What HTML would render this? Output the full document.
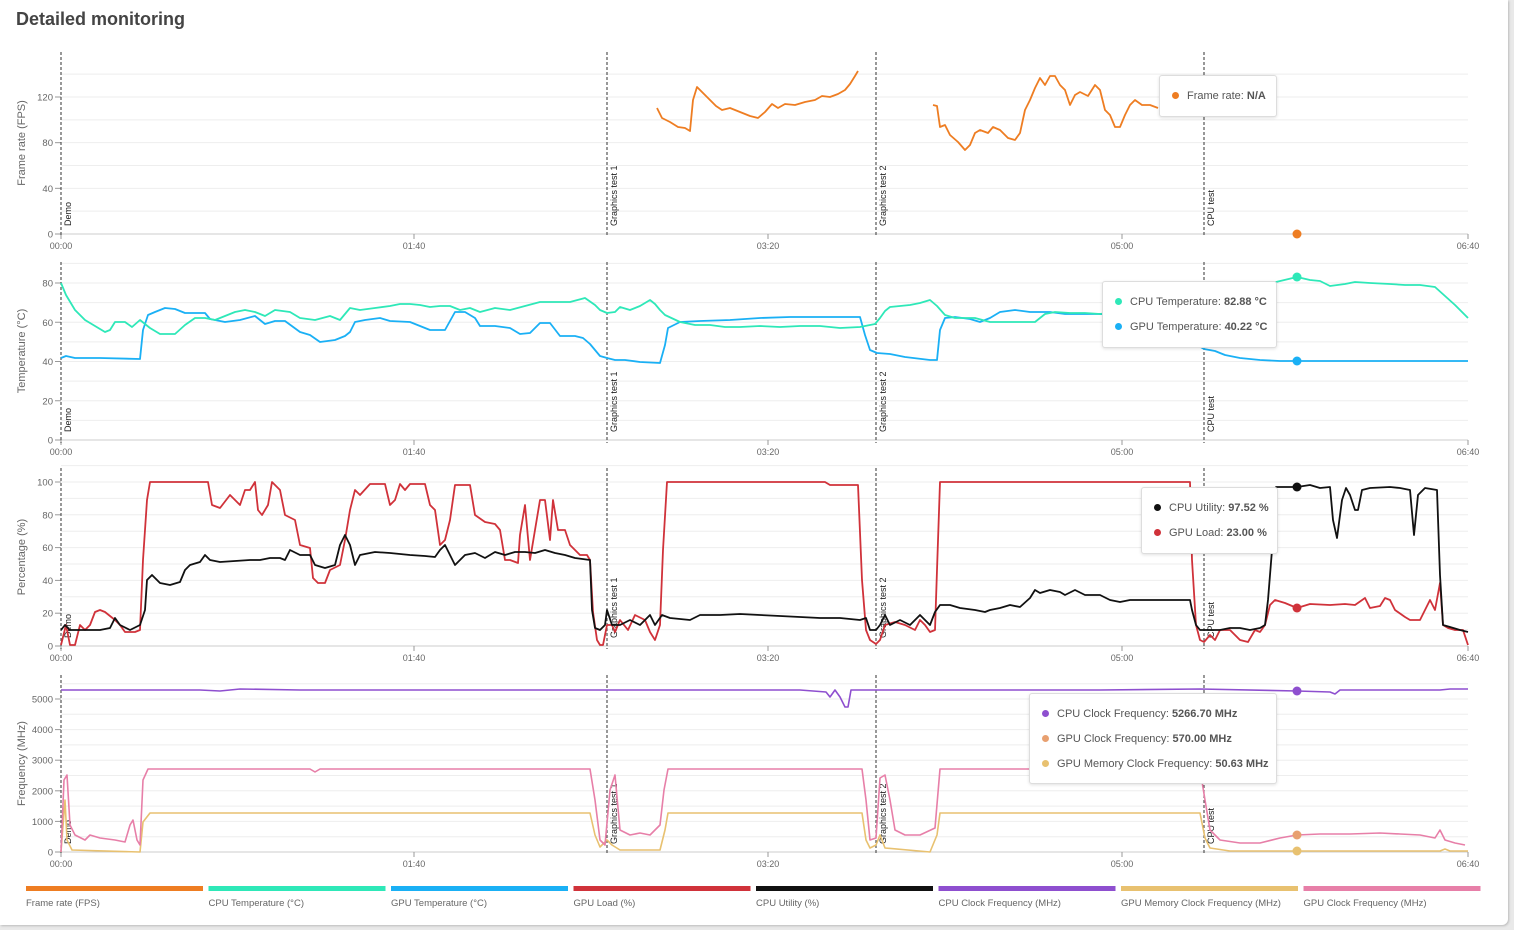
<!DOCTYPE html>
<html><head><meta charset="utf-8"><style>
body{margin:0;background:#e9e9e9;width:1514px;height:930px;overflow:hidden;font-family:"Liberation Sans",sans-serif}
#card{position:absolute;left:0;top:0;width:1508px;height:925px;background:#fff;border-radius:0 0 6px 0;box-shadow:1px 1px 2px #bbb}
h1{position:absolute;left:16px;top:9px;margin:0;font-size:18px;font-weight:bold;color:#444}
svg{position:absolute;left:0;top:0}
.tt{position:absolute;background:#fff;border:1px solid #ddd;border-radius:3px;box-shadow:0 1px 3px rgba(0,0,0,.12);font-size:11px;color:#555}
.tt div{position:absolute;left:12px;white-space:nowrap}
.tt i{display:inline-block;width:7px;height:7px;border-radius:50%;margin-right:8px;vertical-align:0}
.tt b{color:#555}
</style></head><body><div id="card"></div>
<h1>Detailed monitoring</h1>
<svg id="s" width="1514" height="930" font-family="Liberation Sans, sans-serif"></svg>
<div class="tt" style="left:1159px;top:75px;width:116px;height:40px"><div style="top:14px"><i style="background:#ee7d22"></i>Frame rate: <b>N/A</b></div></div>
<div class="tt" style="left:1102px;top:281px;width:173px;height:65px"><div style="top:14px"><i style="background:#2ee8b8"></i>CPU Temperature: <b>82.88 °C</b></div><div style="top:39px"><i style="background:#1ab0f5"></i>GPU Temperature: <b>40.22 °C</b></div></div>
<div class="tt" style="left:1141px;top:487px;width:135px;height:65px"><div style="top:14px"><i style="background:#111"></i>CPU Utility: <b>97.52 %</b></div><div style="top:39px"><i style="background:#d0323a"></i>GPU Load: <b>23.00 %</b></div></div>
<div class="tt" style="left:1029px;top:693px;width:246px;height:89px"><div style="top:14px"><i style="background:#8e4fcf"></i>CPU Clock Frequency: <b>5266.70 MHz</b></div><div style="top:39px"><i style="background:#e8a070"></i>GPU Clock Frequency: <b>570.00 MHz</b></div><div style="top:64px"><i style="background:#e8c170"></i>GPU Memory Clock Frequency: <b>50.63 MHz</b></div></div>
<script>
const S=document.getElementById('s');let h='';
const X0=61,X1=1468;
const P=[{y0:234,k:137/120,st:20,max:140,lab:40,top:52,t:'Frame rate (FPS)'},
{y0:440,k:1.9625,st:10,max:90,lab:20,top:262,t:'Temperature (°C)'},
{y0:646,k:1.64,st:10,max:110,lab:20,top:468,t:'Percentage (%)'},
{y0:852,k:0.0306,st:500,max:5500,lab:1000,top:675,t:'Frequency (MHz)'}];
const marks=[[61,'Demo'],[607,'Graphics test 1'],[876,'Graphics test 2'],[1204,'CPU test']];
const XT=[61,414,768,1122,1468];
P.forEach(p=>{
 for(let v=p.st;v<=p.max;v+=p.st){const y=p.y0-v*p.k;h+=`<line x1="${X0}" x2="${X1}" y1="${y}" y2="${y}" stroke="#eee"/>`;}
 h+=`<line x1="${X0}" x2="${X1}" y1="${p.y0}" y2="${p.y0}" stroke="#ccc"/>`;
 for(let v=0;v<=p.max;v+=p.lab){const y=p.y0-v*p.k;h+=`<line x1="55" x2="61" y1="${y}" y2="${y}" stroke="#999"/><text x="53" y="${y+3.5}" font-size="9.5" fill="#666" text-anchor="end">${v}</text>`;}
 const my=(p.top+p.y0)/2;h+=`<text transform="translate(25,${my}) rotate(-90)" font-size="11" fill="#666" text-anchor="middle">${p.t}</text>`;
 ['00:00','01:40','03:20','05:00','06:40'].forEach((t,i)=>{const x=XT[i];h+=`<line x1="${x}" x2="${x}" y1="${p.y0}" y2="${p.y0+5}" stroke="#999"/><text x="${x}" y="${p.y0+15}" font-size="9" fill="#666" text-anchor="middle">${t}</text>`;});
 marks.forEach(m=>{h+=`<line x1="${m[0]}" x2="${m[0]}" y1="${p.top}" y2="${p.y0+3}" stroke="#555" stroke-width="1.2" stroke-dasharray="3,2"/><text transform="translate(${m[0]+10},${p.y0-8}) rotate(-90)" font-size="9" fill="#222">${m[1]}</text>`;});
});
function L(c,pts,w){h+=`<polyline fill="none" stroke="${c}" stroke-width="${w||1.8}" stroke-linejoin="round" points="${pts}"/>`;}
L('#ee7d22','657,108 662,118 670,122 678,127 685,128 690,131 693,100 697,87 703,93 710,100 716,106 722,110 730,108 740,112 750,116 758,118 765,112 772,104 778,108 785,104 795,105 805,102 815,100 822,96 830,97 838,94 845,90 850,84 855,76 858,71');
L('#ee7d22','933,105 937,106 940,127 945,125 950,135 958,142 965,150 970,145 975,133 980,130 988,133 993,127 1000,130 1008,138 1015,140 1020,133 1025,110 1030,100 1035,88 1040,78 1045,85 1050,76 1055,76 1060,85 1065,90 1070,105 1075,95 1080,92 1088,96 1095,85 1100,90 1105,110 1110,115 1115,127 1120,127 1125,115 1130,105 1135,100 1142,105 1150,105 1158,108');
L('#1ab0f5','61,358 66,356 75,358 100,358 140,359 143,330 148,315 155,312 165,308 175,309 185,313 195,313 205,313 210,319 225,322 240,320 255,316 265,324 275,321 285,321 300,332 310,335 320,342 335,340 345,336 350,332 355,322 365,320 380,318 390,321 410,322 430,330 445,330 455,312 465,312 475,318 480,326 495,326 510,328 520,334 530,333 540,323 550,323 560,336 575,336 583,338 590,344 595,350 600,356 607,358 615,360 625,360 640,362 660,363 665,345 668,328 680,322 700,321 730,320 760,318 790,317 820,317 860,317 865,335 870,350 877,353 890,354 905,357 930,360 937,360 940,330 945,318 955,317 970,319 980,322 990,318 1000,312 1015,310 1030,312 1050,312 1065,314 1085,314 1100,314 1150,318 1204,349 1215,351 1225,355 1240,358 1260,360 1280,361 1297,361 1350,361 1400,361 1468,361');
L('#2ee8b8','61,283 66,295 75,310 85,320 95,326 105,332 110,330 115,322 125,322 132,327 140,320 150,328 160,334 175,334 185,325 195,318 205,318 215,320 225,316 235,312 245,310 255,312 265,316 275,310 290,312 300,318 315,320 330,316 340,320 350,308 360,310 375,308 390,306 400,304 410,304 420,305 430,307 440,306 450,306 460,310 470,308 480,312 495,308 510,310 525,306 540,302 555,302 570,302 585,298 595,305 600,310 607,313 615,312 620,307 630,310 640,306 650,300 655,304 660,310 665,315 680,322 695,325 710,325 725,327 740,327 760,326 780,327 800,326 820,326 840,328 860,327 875,324 880,318 885,311 890,307 900,306 910,305 920,303 930,300 937,306 945,315 955,318 965,318 975,318 990,322 1005,322 1020,322 1035,322 1045,314 1055,312 1070,313 1085,313 1100,314 1200,300 1276,282 1297,277 1310,280 1320,281 1330,286 1345,284 1355,282 1370,283 1390,284 1405,285 1420,285 1435,287 1445,296 1455,305 1468,318');
L('#d0323a','61,645 66,625 70,645 75,645 80,625 85,630 90,625 95,612 100,610 105,612 115,620 120,625 125,632 135,632 140,630 143,560 147,500 150,482 208,482 212,505 220,508 230,495 240,505 245,490 250,490 255,482 258,510 262,515 268,505 272,482 280,490 285,515 295,520 300,545 310,548 313,578 318,583 325,583 330,570 340,565 345,540 350,510 355,490 360,495 370,484 385,484 390,505 395,500 400,484 405,490 410,484 425,484 430,505 435,510 440,545 445,540 450,520 455,485 470,485 475,515 485,522 495,524 500,530 505,560 510,560 518,563 520,535 525,505 530,560 535,530 540,500 545,500 550,540 553,500 558,530 565,530 570,545 580,555 587,555 590,560 593,612 597,640 600,645 603,645 607,625 612,625 615,632 620,620 628,630 635,615 645,620 650,632 655,640 660,625 663,550 667,482 825,482 830,485 858,485 862,580 866,630 870,640 876,644 880,640 885,625 895,622 905,625 915,630 920,620 925,625 930,632 935,630 937,570 940,482 1190,482 1192,560 1196,625 1200,640 1204,642 1210,635 1215,640 1220,630 1230,630 1240,640 1248,642 1255,630 1260,632 1265,625 1270,605 1275,600 1285,603 1297,608 1310,604 1330,605 1345,604 1355,605 1365,598 1370,608 1380,606 1385,598 1390,600 1395,610 1405,617 1410,620 1420,620 1430,600 1435,610 1440,583 1443,625 1448,628 1455,630 1463,630 1468,645');
L('#111','61,630 65,625 70,630 80,630 90,630 100,630 110,628 115,618 120,625 130,630 140,625 145,610 147,580 152,575 160,583 170,585 180,582 185,570 190,565 200,562 205,555 210,560 220,562 235,561 250,560 260,560 270,558 280,558 285,560 290,550 300,555 310,555 315,565 325,568 335,565 340,545 345,535 350,545 355,565 360,555 375,552 390,553 410,555 425,556 435,557 440,550 445,545 455,565 465,555 475,553 485,558 495,552 505,555 515,552 525,552 535,553 545,550 555,553 565,555 575,558 590,560 592,610 595,628 600,630 605,625 607,610 612,625 620,625 630,620 640,625 650,615 655,625 662,615 670,618 690,620 700,615 720,615 740,614 760,615 780,616 800,617 820,618 840,618 860,620 866,618 870,630 876,630 880,625 885,615 890,625 900,620 910,625 920,615 930,625 935,612 940,605 950,605 960,608 975,610 985,612 990,610 1000,608 1010,605 1020,607 1030,598 1035,590 1040,593 1050,590 1060,592 1065,595 1075,590 1085,595 1100,595 1110,600 1120,602 1130,600 1190,600 1192,610 1196,625 1200,630 1210,630 1220,630 1230,628 1240,628 1250,630 1260,628 1265,625 1268,600 1272,550 1276,487 1297,487 1310,485 1320,488 1330,487 1333,520 1337,538 1342,500 1346,488 1350,495 1355,510 1358,510 1362,490 1370,488 1390,487 1400,488 1410,490 1414,535 1418,495 1425,488 1437,490 1440,575 1443,625 1450,627 1460,630 1468,632');
L('#8e4fcf','61,690 200,690 220,691 240,689 300,690 400,690 500,690 600,690 700,690 800,690 826,692 830,697 835,690 840,697 845,707 848,707 851,690 860,690 900,690 1000,690 1100,690 1200,689 1297,691 1330,692 1335,694 1340,690 1400,690 1440,690 1450,689 1468,689',1.6);
L('#e8c170','61,852 65,800 67,840 72,850 140,852 143,822 150,813 590,813 595,835 600,847 607,840 612,845 620,850 660,850 665,830 668,813 862,813 866,840 870,848 876,845 880,835 885,848 930,852 937,835 940,813 1200,813 1205,838 1210,848 1230,851 1440,851 1445,849 1450,851 1468,851',1.6);
L('#e77fa8','61,852 64,780 67,775 70,825 75,835 85,840 90,835 100,838 115,840 125,842 130,825 133,820 137,840 140,845 143,780 148,769 310,769 315,772 320,769 590,769 595,800 600,840 605,845 610,790 615,775 620,830 630,835 640,833 650,835 655,830 660,825 664,790 668,769 862,769 866,800 870,840 876,838 880,778 885,775 890,800 895,830 905,835 920,835 935,828 940,769 1200,769 1205,800 1210,830 1220,840 1240,843 1260,843 1280,838 1297,835 1320,834 1350,834 1380,833 1400,834 1420,835 1435,838 1440,830 1445,840 1455,843 1465,845',1.6);
[[234,'#ee7d22'],[277,'#2ee8b8'],[361,'#1ab0f5'],[487,'#111'],[608,'#d0323a'],[691,'#8e4fcf'],[835,'#e8a070'],[851,'#e8c170']].forEach(d=>h+=`<circle cx="1297" cy="${d[0]}" r="4.5" fill="${d[1]}"/>`);
const lg=[['#ee7d22','Frame rate (FPS)'],['#2ee8b8','CPU Temperature (°C)'],['#1ab0f5','GPU Temperature (°C)'],['#d0323a','GPU Load (%)'],['#111','CPU Utility (%)'],['#8e4fcf','CPU Clock Frequency (MHz)'],['#e8c170','GPU Memory Clock Frequency (MHz)'],['#e77fa8','GPU Clock Frequency (MHz)']];
lg.forEach((l,i)=>{const x=26+i*182.5;h+=`<rect x="${x}" y="886" width="177" height="5" fill="${l[0]}"/><text x="${x}" y="906" font-size="9.5" fill="#666">${l[1]}</text>`;});
S.innerHTML=h;
</script></body></html>
